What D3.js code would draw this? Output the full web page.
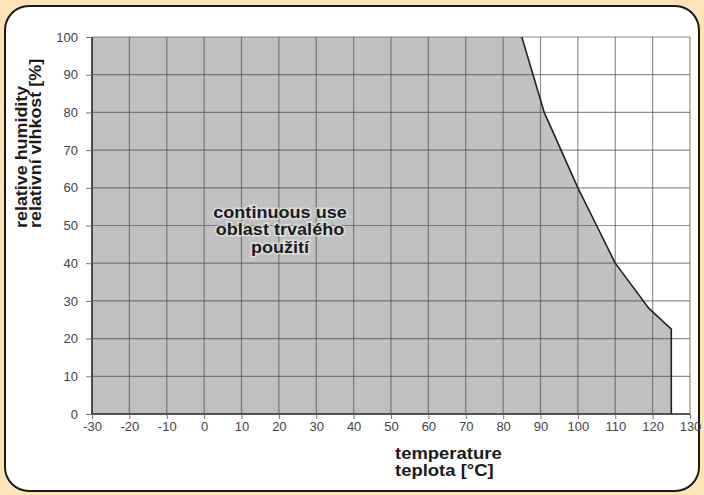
<!DOCTYPE html>
<html>
<head>
<meta charset="utf-8">
<script src="https://cdn.jsdelivr.net/npm/d3@7"></script>
<style>
  html, body { margin: 0; padding: 0; background: #fde3b5; }
  svg { display: block; }
</style>
</head>
<body>
<div id="chart"></div>
<script>
// operating limit curve (temperature in °C, relative humidity in %)
var tempValues = [-30, 85, 88, 91, 95.5, 100, 105, 110, 119, 125, 125];
var rhValues   = [100, 100, 90, 80, 70, 60, 50, 40, 28, 22.5, 0];

var xTicks = [-30, -20, -10, 0, 10, 20, 30, 40, 50, 60, 70, 80, 90, 100, 110, 120, 130];
var yTicks = [0, 10, 20, 30, 40, 50, 60, 70, 80, 90, 100];

var regionLabel = ["continuous use", "oblast trvalého", "použití"];
var yTitle = ["relative humidity", "relativní vlhkost [%]"];
var xTitle = ["temperature", "teplota [°C]"];

function drawChart() {
    var W = 704, H = 495;
    var fontFam = "'Liberation Sans', Arial, Helvetica, sans-serif";

    var svg = d3.select("#chart")
                .append("svg")
                .attr("width", W)
                .attr("height", H);

    // peach background + rounded white panel
    svg.append("rect")
       .attr("width", W).attr("height", H)
       .attr("fill", "#fde3b5");
    svg.append("rect")
       .attr("x", 5).attr("y", 6)
       .attr("width", 694).attr("height", 485)
       .attr("rx", 24).attr("ry", 24)
       .attr("fill", "#fff")
       .attr("stroke", "#1a1a1a")
       .attr("stroke-width", 2);

    // scales (plot area)
    var x = d3.scaleLinear().domain([-30, 130]).range([92, 690]);
    var y = d3.scaleLinear().domain([0, 100]).range([414, 37]);

    var g = svg.append("g");

    // filled region of continuous use
    var pts = tempValues.map(function(t, i) { return [t, rhValues[i]]; });
    var area = d3.area()
                 .x(function(d) { return x(d[0]); })
                 .y0(y(0))
                 .y1(function(d) { return y(d[1]); });
    g.append("path")
     .datum(pts)
     .attr("d", area)
     .attr("fill", "#c1c1c1");

    // grid
    g.selectAll("line.vgrid")
     .data(xTicks)
     .enter().append("line")
     .attr("class", "vgrid")
     .attr("x1", function(d) { return x(d); })
     .attr("x2", function(d) { return x(d); })
     .attr("y1", y(0)).attr("y2", y(100))
     .attr("stroke", "#444").attr("stroke-opacity", 0.6)
     .attr("stroke-width", 1.2);
    g.selectAll("line.hgrid")
     .data(yTicks)
     .enter().append("line")
     .attr("class", "hgrid")
     .attr("x1", x(-30)).attr("x2", x(130))
     .attr("y1", function(d) { return y(d); })
     .attr("y2", function(d) { return y(d); })
     .attr("stroke", "#444").attr("stroke-opacity", 0.6)
     .attr("stroke-width", 1.2);

    // boundary curve
    var line = d3.line()
                 .x(function(d) { return x(d[0]); })
                 .y(function(d) { return y(d[1]); });
    g.append("path")
     .datum(pts.slice(1))
     .attr("d", line)
     .attr("fill", "none")
     .attr("stroke", "#222")
     .attr("stroke-width", 1.6);

    // axes (plain hyphen for negatives, like the original)
    var fmt = function(d) { return String(d); };
    var xAxis = d3.axisBottom(x).tickValues(xTicks).tickSize(5).tickPadding(3)
                  .tickFormat(fmt);
    var yAxis = d3.axisLeft(y).tickValues(yTicks).tickSize(6).tickPadding(8)
                  .tickFormat(fmt);

    var gx = svg.append("g")
                .attr("transform", "translate(0," + y(0) + ")")
                .call(xAxis);
    var gy = svg.append("g")
                .attr("transform", "translate(" + x(-30) + ",0)")
                .call(yAxis);

    [gx, gy].forEach(function(a) {
        a.select(".domain").attr("stroke", "#333").attr("stroke-width", 1.6);
        a.selectAll(".tick line").attr("stroke", "#777");
        a.selectAll(".tick text")
         .attr("fill", "#444")
         .attr("font-family", fontFam)
         .attr("font-size", "13px");
    });
    gy.select(".domain").attr("d", "M0," + y(0) + "V" + y(100));
    gx.select(".domain").attr("d", "M" + x(-30) + ",0H" + x(130));

    // label inside region (the original lettering is a bit wide, so stretch it)
    var lbl = svg.append("text")
                 .attr("transform", "translate(280,218) scale(1.13,1)")
                 .attr("text-anchor", "middle")
                 .attr("font-family", fontFam)
                 .attr("font-weight", "bold")
                 .attr("font-size", "16px")
                 .attr("fill", "#1a1a1a")
                 .attr("stroke", "#eee")
                 .attr("stroke-width", 3)
                 .attr("stroke-opacity", 0.6)
                 .attr("paint-order", "stroke");
    regionLabel.forEach(function(s, i) {
        lbl.append("tspan").attr("x", 0).attr("dy", i === 0 ? 0 : 17.5).text(s);
    });

    // y axis title (rotated)
    var yt = svg.append("text")
                .attr("transform", "translate(27,228) rotate(-90) scale(1.12,1)")
                .attr("font-family", fontFam)
                .attr("font-weight", "bold")
                .attr("font-size", "16px")
                .attr("fill", "#1a1a1a");
    yTitle.forEach(function(s, i) {
        yt.append("tspan").attr("x", 0).attr("dy", i === 0 ? 0 : 14).text(s);
    });

    // x axis title
    var xt = svg.append("text")
                .attr("transform", "translate(395,459) scale(1.12,1)")
                .attr("font-family", fontFam)
                .attr("font-weight", "bold")
                .attr("font-size", "16.5px")
                .attr("fill", "#1a1a1a");
    xTitle.forEach(function(s, i) {
        xt.append("tspan").attr("x", 0).attr("dy", i === 0 ? 0 : 17.5).text(s);
    });
}

window.onload = drawChart;
</script>
</body>
</html>
